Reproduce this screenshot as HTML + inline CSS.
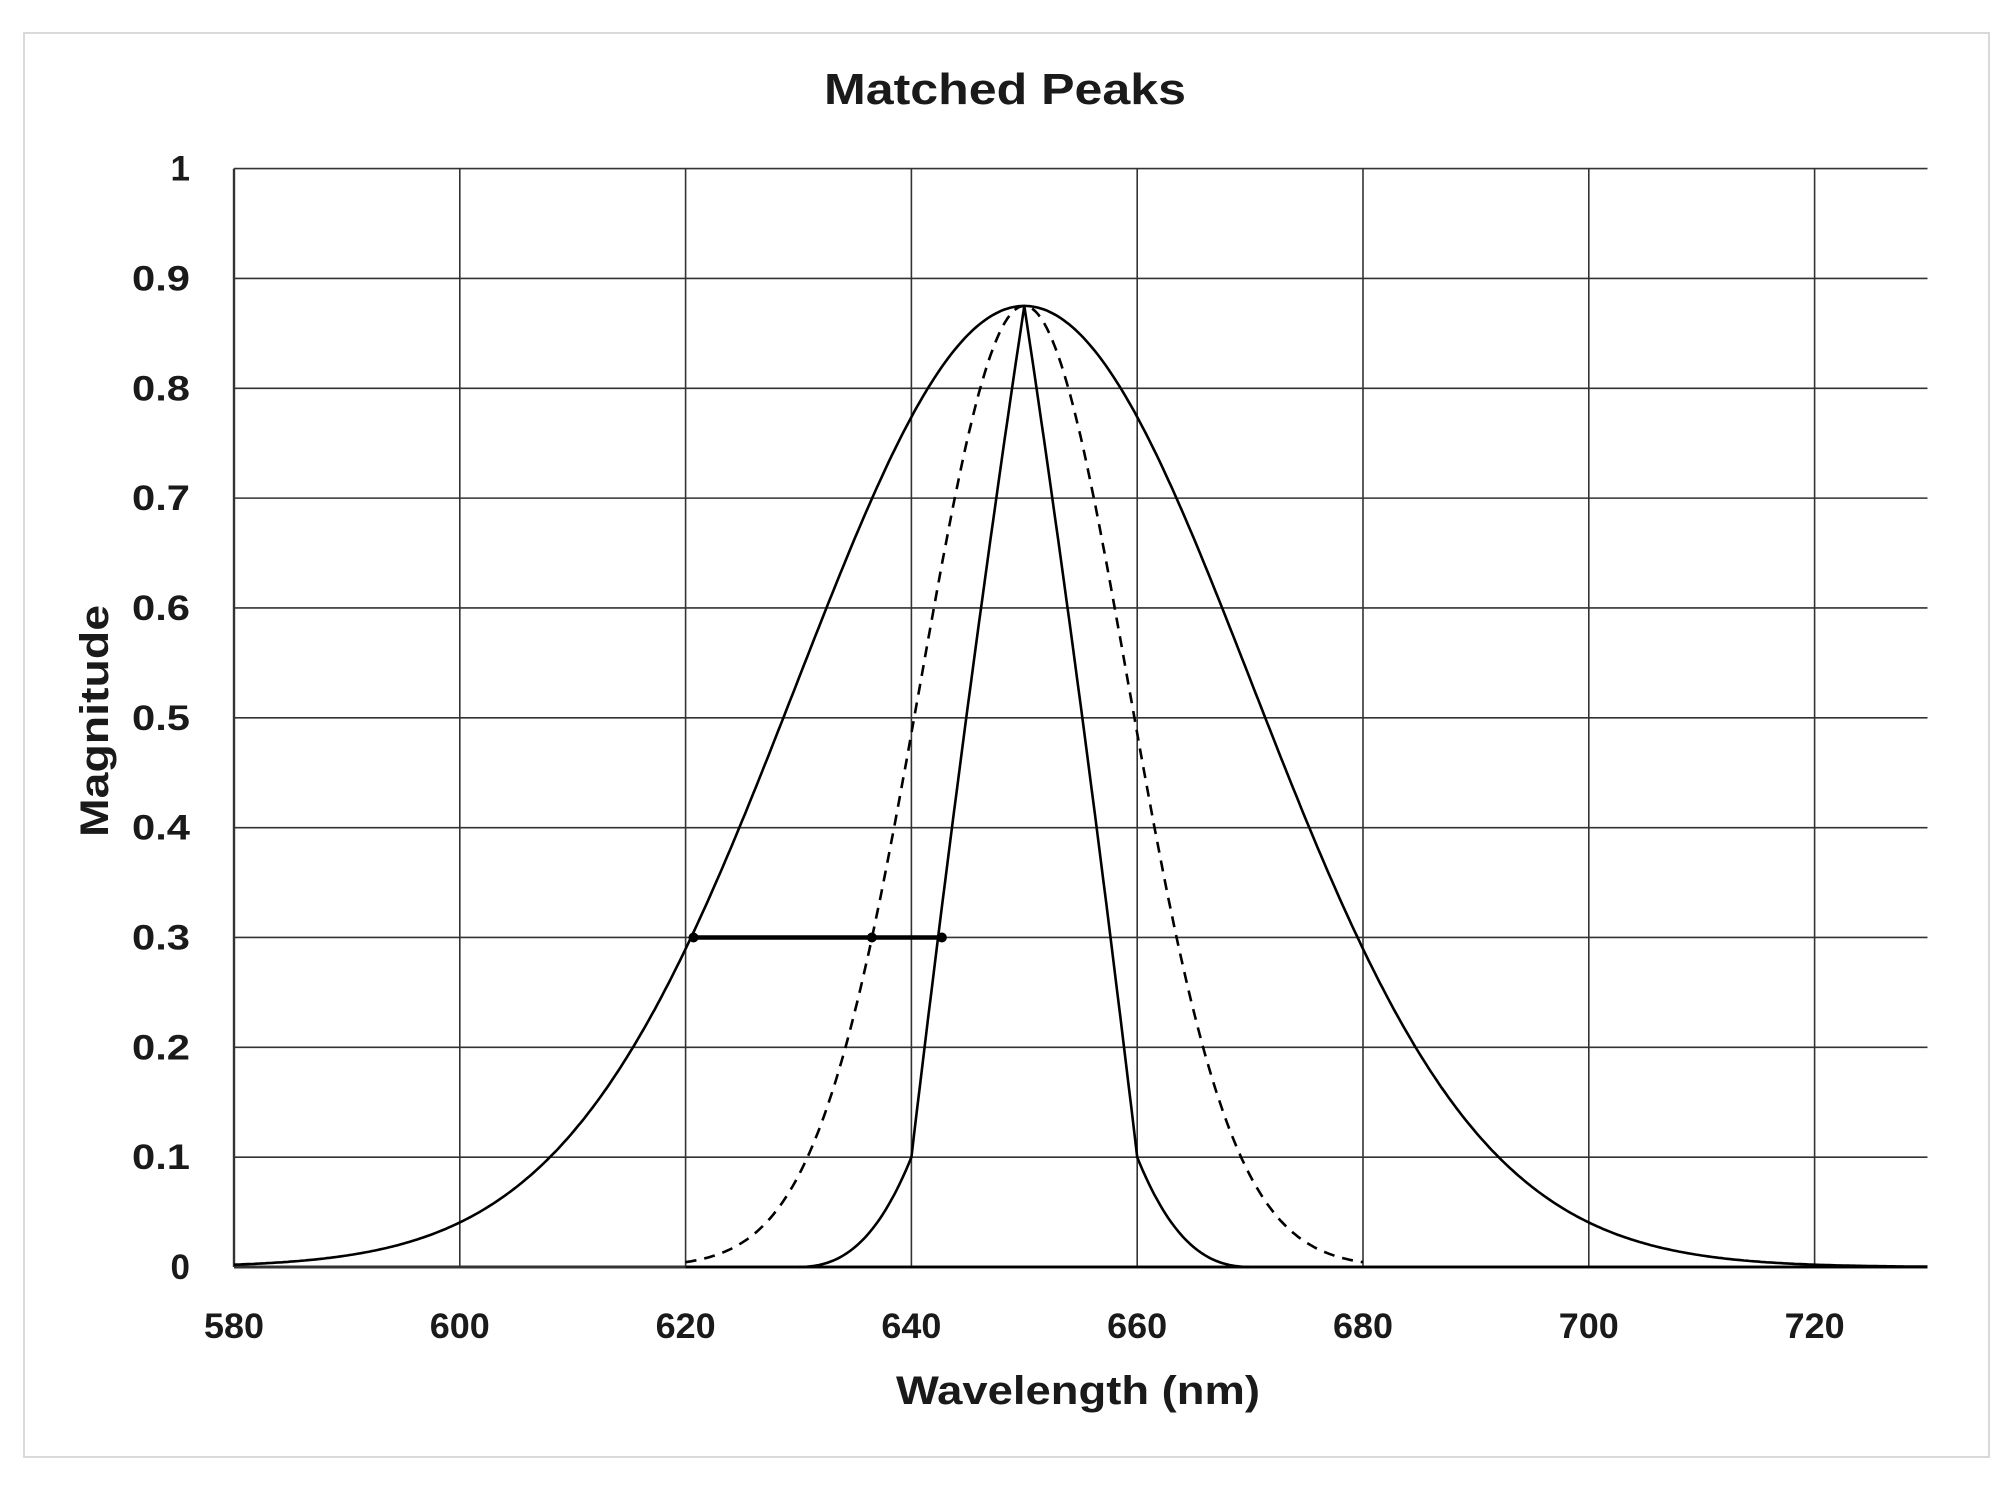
<!DOCTYPE html>
<html><head><meta charset="utf-8"><style>
html,body{margin:0;padding:0;background:#fff;}
svg{display:block;}
text{font-family:"Liberation Sans",sans-serif;font-weight:bold;fill:#1a1a1a;}
</style></head><body>
<svg id="s" width="2008" height="1489" viewBox="0 0 2008 1489" xmlns="http://www.w3.org/2000/svg">
<rect x="0" y="0" width="2008" height="1489" fill="#fff"/>
<rect x="24" y="33" width="1965" height="1424" fill="none" stroke="#d9d9d9" stroke-width="2"/>
<text x="1005" y="104" font-size="44" text-anchor="middle" textLength="362" lengthAdjust="spacingAndGlyphs">Matched Peaks</text>
<g id="grid" stroke="#333" stroke-width="1.6"></g>
<g id="labels" font-size="35"></g>
<text x="1078" y="1404" font-size="40" text-anchor="middle" textLength="364" lengthAdjust="spacingAndGlyphs">Wavelength (nm)</text>
<text transform="translate(108,721) rotate(-90)" font-size="40" text-anchor="middle" textLength="232" lengthAdjust="spacingAndGlyphs">Magnitude</text>
<g id="curves" fill="none" stroke="#000" stroke-width="2.6"></g>
</svg>
<script>
var X=function(l){return 234+(l-580)*11.29;};
var Y=function(v){return 1267-v*1098.4;};
var g=document.getElementById('grid'),lb=document.getElementById('labels'),cv=document.getElementById('curves');
var NS='http://www.w3.org/2000/svg';
function el(p,t,a,txt){var e=document.createElementNS(NS,t);for(var k in a)e.setAttribute(k,a[k]);if(txt)e.textContent=txt;p.appendChild(e);return e;}
for(var i=0;i<=10;i++){var y=Y(i/10);el(g,'line',{x1:X(580),x2:X(730),y1:y,y2:y,'stroke-width':i==0?3:1.6});
 var a={x:190,y:y+12,'text-anchor':'end'};if(i>0&&i<10){a.textLength=58;a.lengthAdjust='spacingAndGlyphs';}
 el(lb,'text',a,i==0?'0':i==10?'1':(i/10).toFixed(1));}
for(var l=580;l<=720;l+=20){el(g,'line',{x1:X(l),x2:X(l),y1:Y(1),y2:Y(0),'stroke-width':l==580?2.4:1.6});
 el(lb,'text',{x:X(l),y:1338,'text-anchor':'middle',textLength:60,lengthAdjust:'spacingAndGlyphs'},String(l));}
function path(f,a,b,st){var d='';for(var l=a;l<=b+1e-9;l+=0.25){d+=(d?'L':'M')+X(l).toFixed(1)+','+Y(f(l)).toFixed(1);}return el(cv,'path',Object.assign({d:d},st||{}));}
path(function(l){return 0.875*Math.exp(-(l-650)*(l-650)/814);},580,730);
path(function(l){return 0.875*Math.exp(-(l-650)*(l-650)/170);},620,680,{'stroke-dasharray':'11,8'});
path(function(l){var d=Math.abs(l-650);if(d<=10){var t=d/10;return 0.875-0.775*(0.88*t+0.12*t*t);}if(d>=20)return 0;var t=(20-d)/10;return 0.1*(0.45*t*t+0.55*t*t*t);},630,670);
el(cv,'line',{x1:X(620),x2:X(730),y1:Y(0),y2:Y(0)});
el(cv,'line',{x1:X(620.7),x2:X(642.7),y1:Y(0.3),y2:Y(0.3),'stroke-width':4.5});
[620.7,636.5,642.7].forEach(function(l){el(cv,'circle',{cx:X(l),cy:Y(0.3),r:5,fill:'#000',stroke:'none'});});
</script>
</body></html>
